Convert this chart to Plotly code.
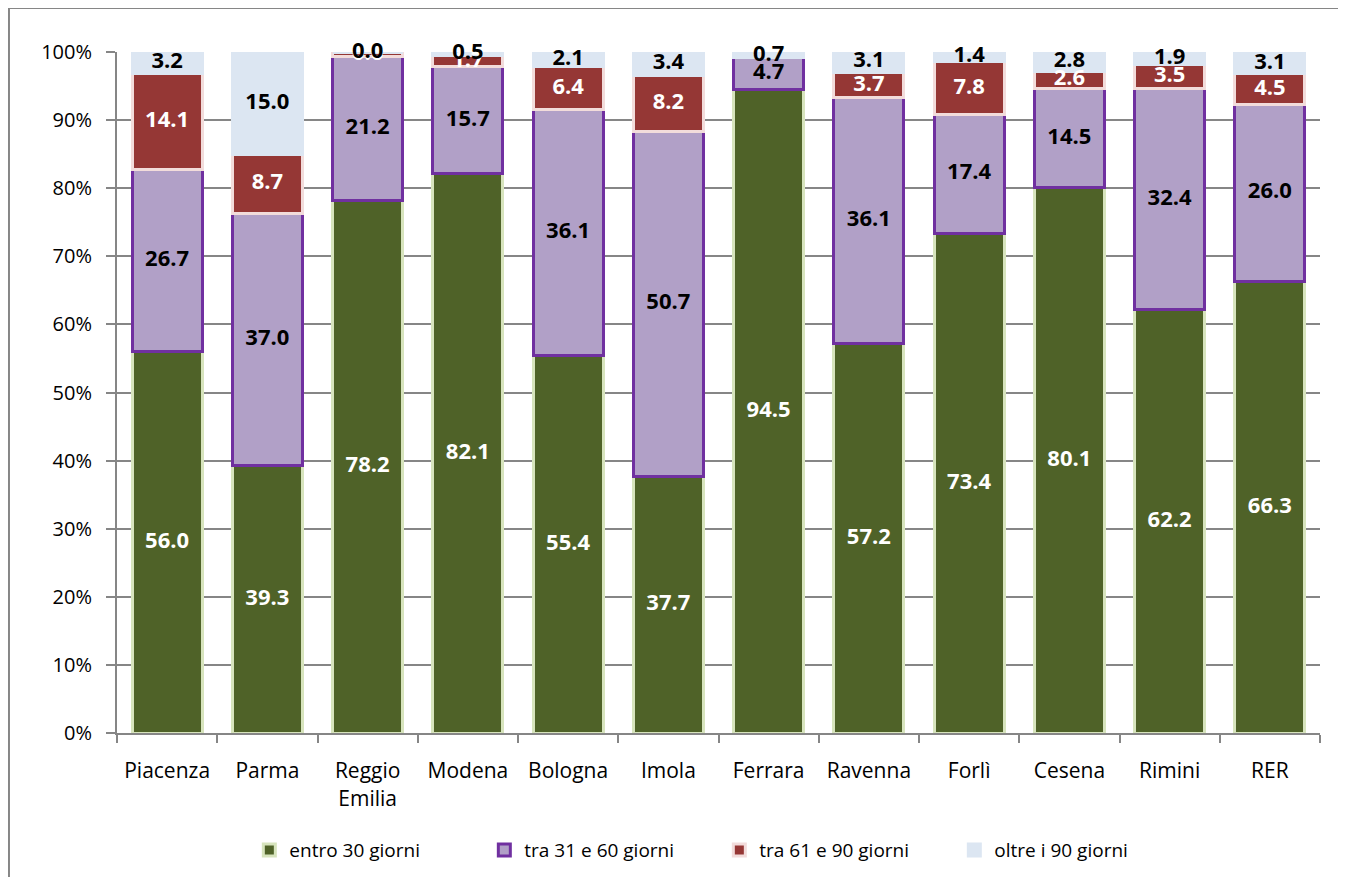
import plotly.graph_objects as go

categories = ["Piacenza", "Parma", "Reggio<br>Emilia", "Modena", "Bologna", "Imola",
              "Ferrara", "Ravenna", "Forlì", "Cesena", "Rimini", "RER"]
entro_30 = [56.0, 39.3, 78.2, 82.1, 55.4, 37.7, 94.5, 57.2, 73.4, 80.1, 62.2, 66.3]
tra_31_60 = [26.7, 37.0, 21.2, 15.7, 36.1, 50.7, 4.7, 36.1, 17.4, 14.5, 32.4, 26.0]
tra_61_90 = [14.1, 8.7, 0.6, 1.7, 6.4, 8.2, None, 3.7, 7.8, 2.6, 3.5, 4.5]
oltre_90 = [3.2, 15.0, 0.0, 0.5, 2.1, 3.4, 0.7, 3.1, 1.4, 2.8, 1.9, 3.1]

series = [
    ("entro 30 giorni", entro_30, "#4F6228", "#D7E4BD", "white"),
    ("tra 31 e 60 giorni", tra_31_60, "#B1A0C7", "#7030A0", "black"),
    ("tra 61 e 90 giorni", tra_61_90, "#953735", "#F2DCDB", "white"),
    ("oltre i 90 giorni", oltre_90, "#DCE6F2", "#DCE6F2", "black"),
]

FONT = "Open Sans"
fig = go.Figure()
for name, vals, fill, line, _ in series:
    fig.add_trace(go.Bar(
        x=categories, y=vals, name=name,
        marker=dict(color=fill, line=dict(color=line, width=3)),
        width=0.7, hoverinfo="skip",
    ))

# data labels at segment centres
base = [0.0] * len(categories)
for name, vals, fill, line, tcol in series:
    xs, ys, ts = [], [], []
    for i, v in enumerate(vals):
        if v is None:
            continue
        xs.append(categories[i])
        ys.append(base[i] + v / 2)
        ts.append(f"{v:.1f}")
        base[i] += v
    fig.add_trace(go.Scatter(
        x=xs, y=ys, text=ts, mode="text", showlegend=False,
        textfont=dict(family=FONT, size=22, color=tcol, weight="bold"),
        hoverinfo="skip", cliponaxis=False,
    ))

fig.update_layout(
    width=1346, height=877,
    barmode="stack", bargap=0.3,
    paper_bgcolor="white", plot_bgcolor="white",
    margin=dict(l=109, r=34, t=44, b=152, autoexpand=False),
    font=dict(family=FONT, size=20, color="black"),
    showlegend=True,
    legend=dict(orientation="h", x=0.11, xanchor="left", y=-0.172, yanchor="middle",
                entrywidth=190, entrywidthmode="pixels", traceorder="normal",
                bgcolor="rgba(0,0,0,0)",
                font=dict(family=FONT, size=19, color="black"),
                itemclick=False),
    shapes=[dict(type="rect", xref="paper", yref="paper",
                 x0=-0.0898, x1=1.03, y0=-0.23, y1=1.0646,
                 line=dict(color="#868686", width=2), fillcolor="rgba(0,0,0,0)",
                 layer="below")],
)
fig.update_yaxes(range=[0, 100], dtick=10, ticksuffix="%", showgrid=True,
                 gridcolor="#868686", gridwidth=1.5, showline=True, linecolor="#868686",
                 linewidth=2, ticks="outside", ticklen=9, tickcolor="#868686", tickwidth=2,
                 ticklabelstandoff=10,
                 tickfont=dict(family=FONT, size=20), zeroline=False)
fig.update_xaxes(range=[-0.5, len(categories) - 0.5],
                 showline=True, linecolor="#868686", linewidth=2, ticks="outside",
                 tickson="boundaries", ticklen=8, tickcolor="#868686", tickwidth=2,
                 ticklabelstandoff=18, tickangle=0,
                 tickfont=dict(family=FONT, size=21), showgrid=False)

fig.write_html("out.html")
